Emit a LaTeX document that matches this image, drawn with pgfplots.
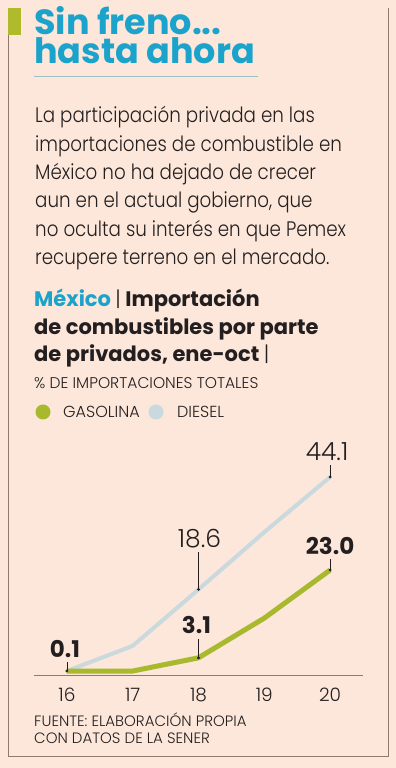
\documentclass[border=0pt]{standalone}
\usepackage{pgfplots}
\pgfplotsset{compat=1.18}
\usepackage{fontspec}
\setmainfont{Poppins}[UprightFont={* Light},BoldFont={* Bold}]
\newfontfamily\bodyf{Poppins Light}[FakeStretch=0.87]
\newfontfamily\titf{Poppins Bold}
\definecolor{bg}{HTML}{FCE7DA}
\definecolor{frame}{HTML}{8C7B70}
\definecolor{olive}{HTML}{B0BB2C}
\definecolor{gas}{HTML}{A9B92E}
\definecolor{dsl}{HTML}{C9D9DE}
\definecolor{cyanT}{HTML}{1BA3CB}
\definecolor{ink}{HTML}{231F20}
\definecolor{uline}{HTML}{9DC0C6}
\begin{document}
\begin{tikzpicture}
\fill[bg] (0,0) rectangle (396pt,768pt);
\draw[frame,line width=1pt] (8.5pt,733pt) -- (8.5pt,11pt) -- (388pt,11pt) -- (388pt,760pt);
\fill[olive] (8pt,733pt) rectangle (21pt,760pt);
% title
\node[anchor=base west,inner sep=0,text=cyanT,align=left,font=\titf\fontsize{35}{28.5}\selectfont] at (34pt,704.5pt) {Sin freno...\\hasta ahora};
\draw[uline,line width=1pt] (34pt,691pt) -- (258pt,691pt);
% body
\foreach \t [count=\i from 0] in {La participación privada en las,importaciones de combustible en,México no ha dejado de crecer,{aun en el actual gobierno, que},no oculta su interés en que Pemex,recupere terreno en el mercado.}{
  \node[anchor=base west,inner sep=0,text=ink,font=\bodyf\fontsize{21}{21}\selectfont] at (35pt,{645-28.3*\i)*1pt}) {\t};
}
% subtitle
\node[anchor=base west,inner sep=0,text=ink,font=\bfseries\fontsize{21}{21}\selectfont] at (34pt,461pt) {\textcolor{cyanT}{México} {\mdseries|} Importación};
\node[anchor=base west,inner sep=0,text=ink,font=\bfseries\fontsize{21}{21}\selectfont] at (34pt,433pt) {de combustibles por parte};
\node[anchor=base west,inner sep=0,text=ink,font=\bfseries\fontsize{21}{21}\selectfont] at (34pt,406pt) {de privados, ene-oct {\mdseries|}};
\node[anchor=base west,inner sep=0,text=ink,font=\fontsize{15.5}{15.5}\selectfont] at (34pt,379pt) {\% DE IMPORTACIONES TOTALES};
\fill[gas] (43pt,356pt) circle (7.5pt);
\node[anchor=base west,inner sep=0,text=ink,font=\fontsize{16}{16}\selectfont] at (63pt,350pt) {GASOLINA};
\fill[dsl] (156pt,356pt) circle (7.5pt);
\node[anchor=base west,inner sep=0,text=ink,font=\fontsize{16}{16}\selectfont] at (177pt,350pt) {DIESEL};
% source
\node[anchor=base west,inner sep=0,text=ink,font=\fontsize{15}{15}\selectfont] at (34pt,41pt) {FUENTE: ELABORACIÓN PROPIA};
\node[anchor=base west,inner sep=0,text=ink,font=\fontsize{15}{15}\selectfont] at (34pt,24pt) {CON DATOS DE LA SENER};
\begin{axis}[
  at={(34pt,93pt)}, anchor=south west,
  scale only axis, width=329pt, height=224pt,
  xmin=15.5, xmax=20.5, ymin=-0.8, ymax=50,
  axis y line=none, axis x line*=bottom,
  x axis line style={-, draw=frame, line width=0.8pt},
  xtick={16,17,18,19,20},
  xticklabels={16,17,18,19,20},
  major tick length=0pt,
  xticklabel style={anchor=base, yshift=-27pt, text=ink, font=\fontsize{18.5}{18.5}\selectfont},
  /pgf/number format/assume math mode=true,
  clip=false,
]
\addplot[dsl, line width=4pt, line join=round] coordinates {(16,0.1) (17,5.8) (18,18.6) (19,31.6) (20,44.1)};
\addplot[gas, line width=5pt, line join=round] coordinates {(16,0.1) (17,0.1) (18,3.1) (19,12.1) (20,23.0)};
\addplot[only marks, mark=*, mark size=1.2pt, ink] coordinates {(16,0.1) (18,18.6) (18,3.1) (20,44.1) (20,23.0)};
\draw[ink, line width=0.6pt] (axis cs:20,44.1) -- ++(0pt,12pt);
\node[anchor=base, inner sep=0, text=ink, font=\fontsize{25}{25}\selectfont] at ([xshift=-3pt,yshift=17pt]axis cs:20,44.1) {44.1};
\draw[ink, line width=0.6pt] (axis cs:18,18.6) -- ++(0pt,37pt);
\node[anchor=base, inner sep=0, text=ink, font=\fontsize{25}{25}\selectfont] at ([xshift=1pt,yshift=42pt]axis cs:18,18.6) {18.6};
\draw[ink, line width=0.6pt] (axis cs:20,23.0) -- ++(0pt,11pt);
\node[anchor=base, inner sep=0, text=ink, font=\bfseries\fontsize{23}{23}\selectfont] at ([yshift=16pt]axis cs:20,23.0) {23.0};
\draw[ink, line width=0.6pt] (axis cs:18,3.1) -- ++(0pt,19pt);
\node[anchor=base, inner sep=0, text=ink, font=\bfseries\fontsize{23}{23}\selectfont] at ([xshift=-2pt,yshift=24pt]axis cs:18,3.1) {3.1};
\draw[ink, line width=0.6pt] (axis cs:16,0.1) -- ++(0pt,9pt);
\node[anchor=base, inner sep=0, text=ink, font=\bfseries\fontsize{23}{23}\selectfont] at ([xshift=-2pt,yshift=14pt]axis cs:16,0.1) {0.1};
\end{axis}
\end{tikzpicture}
\end{document}
